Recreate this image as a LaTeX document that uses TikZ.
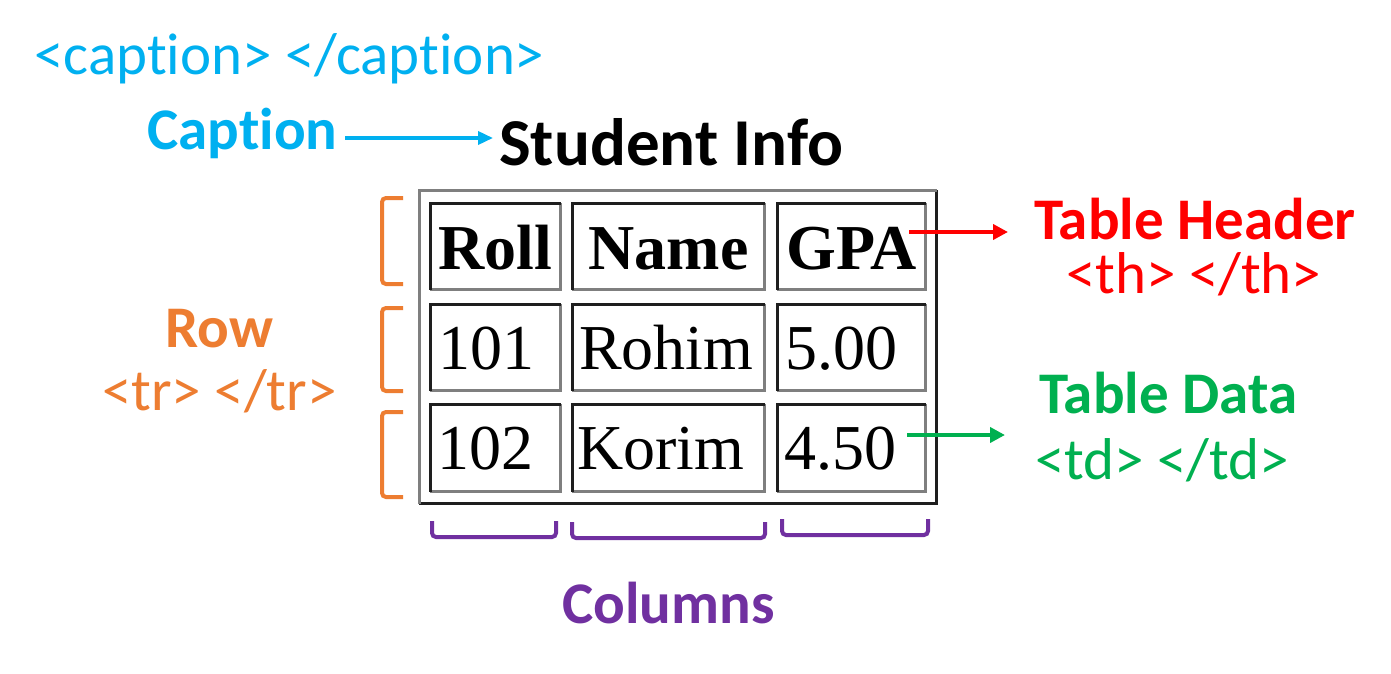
\documentclass[tikz,border=0pt]{standalone}
\usepackage{fontspec}
\newfontfamily\calib[Ligatures=NoCommon]{Carlito}
\newfontfamily\tmsf{Liberation Serif}
\usetikzlibrary{arrows.meta}
\definecolor{cblue}{HTML}{00B0F0}
\definecolor{corange}{HTML}{ED7D31}
\definecolor{cred}{HTML}{FF0000}
\definecolor{cgreen}{HTML}{00B050}
\definecolor{cpurple}{HTML}{7030A0}
\definecolor{bdark}{HTML}{1E1E1E}
\definecolor{blight}{HTML}{7F7F7F}
\tikzset{
  lbl/.style={inner sep=0pt, anchor=base west, font=\calib\fontsize{59}{61}\selectfont},
  lblb/.style={inner sep=0pt, anchor=base west, font=\calib\bfseries\fontsize{59}{61}\selectfont},
  cellnode/.style={inner sep=0pt, draw=none, rectangle},
  celldark/.style={draw=bdark, line width=3pt},
  celllight/.style={draw=blight, line width=3pt},
  hdr/.style={inner sep=0pt, anchor=base, font=\tmsf\bfseries\fontsize{64}{66}\selectfont},
  dat/.style={inner sep=0pt, anchor=base west, font=\tmsf\fontsize{64}{66}\selectfont},
  rowbr/.style={draw=corange, line width=4pt, rounded corners=4pt},
  colbr/.style={draw=cpurple, line width=4pt, rounded corners=4pt},
  lblarrow/.style={line width=4.5pt, -{Triangle[length=15pt,width=15pt]}},
}
\newcommand\tcell[5]{%
  \node[cellnode, minimum width={#4-#2}, minimum height={#5-#3}] (#1) at ({(#2+#4)/2},{(#3+#5)/2}) {};
  \draw[celllight] (#1.north east) -- (#1.south east) -- (#1.south west);
  \draw[celldark] (#1.south west) -- (#1.north west) -- (#1.north east);
}
\begin{document}
\begin{tikzpicture}[x=1pt,y=-1pt]
\useasboundingbox[fill=white] (0,0) rectangle (1391,674);

% outer table border (outset)
\node[cellnode, minimum width=517pt, minimum height=313pt] (tbl) at (678,347) {};
\draw[celldark] (tbl.north east) -- (tbl.south east) -- (tbl.south west);
\draw[celllight] (tbl.south west) -- (tbl.north west) -- (tbl.north east);

% cells
\tcell{c11}{430.5}{203.5}{560.5}{289.5}
\tcell{c12}{572.5}{203.5}{764.5}{289.5}
\tcell{c13}{777.5}{203.5}{925.5}{289.5}
\tcell{c21}{430.5}{304.5}{560.5}{390.5}
\tcell{c22}{572.5}{304.5}{764.5}{390.5}
\tcell{c23}{777.5}{304.5}{925.5}{390.5}
\tcell{c31}{430.5}{404.5}{560.5}{491.5}
\tcell{c32}{572.5}{404.5}{764.5}{491.5}
\tcell{c33}{777.5}{404.5}{925.5}{491.5}

% cell texts
\node[hdr] (roll) at (495.5,269) {Roll};
\node[hdr] (name) at (668.5,269) {Name};
\node[hdr] (gpa) at (851.5,269) {GPA};
\node[dat] (d101) at (438,369) {101};
\node[dat] (rohim) at (579,369) {Rohim};
\node[dat] (d500) at (785,369) {5.00};
\node[dat] (d102) at (437,469) {102};
\node[dat] (korim) at (577,469) {Korim};
\node[dat] (d450) at (784,469) {4.50};

% labels
\node[lbl, text=cblue] (captag) at (34,75) {<caption> </caption>};
\node[lblb, text=cblue] (cap) at (147,149) {Caption};
\node[inner sep=0pt, anchor=base west, font=\calib\bfseries\fontsize{67}{69}\selectfont] (stu) at (499,165) {Student Info};
\node[lblb, text=cred] (thl) at (1034,239) {Table Header};
\node[lbl, text=cred] (thtag) at (1066,293) {<th> </th>};
\node[lblb, text=cgreen] (tdl) at (1039,413) {Table Data};
\node[lbl, text=cgreen] (tdtag) at (1035,479) {<td> </td>};
\node[lblb, text=corange] (rowl) at (165,347) {Row};
\node[lbl, text=corange] (trtag) at (102,410) {<tr> </tr>};
\node[lblb, text=cpurple] (coll) at (562,623) {Columns};

% arrows
\coordinate (capA) at (345,138);
\draw[cblue, line width=3.5pt, -{Triangle[length=15pt,width=13pt]}, shorten >=6pt]
  (capA) -- (capA -| stu.west);
\coordinate (thA) at (909,232);
\draw[cred, lblarrow, shorten >=26pt] (thA) -- (thA -| thl.west);
\coordinate (tdA) at (907,435);
\draw[cgreen, lblarrow, shorten >=34pt] (tdA) -- (tdA -| tdl.west);

% row brackets
\draw[rowbr] (403,198) -- (382,198) -- (382,284) -- (403,284);
\draw[rowbr] (403,308) -- (382,308) -- (382,391) -- (403,391);
\draw[rowbr] (403,412) -- (382,412) -- (382,497) -- (403,497);

% column brackets
\draw[colbr] (432,521) -- (432,537) -- (556,537) -- (556,521);
\draw[colbr] (572,522) -- (572,538) -- (765,538) -- (765,522);
\draw[colbr] (782,519) -- (782,535) -- (928,535) -- (928,519);
\end{tikzpicture}
\end{document}
